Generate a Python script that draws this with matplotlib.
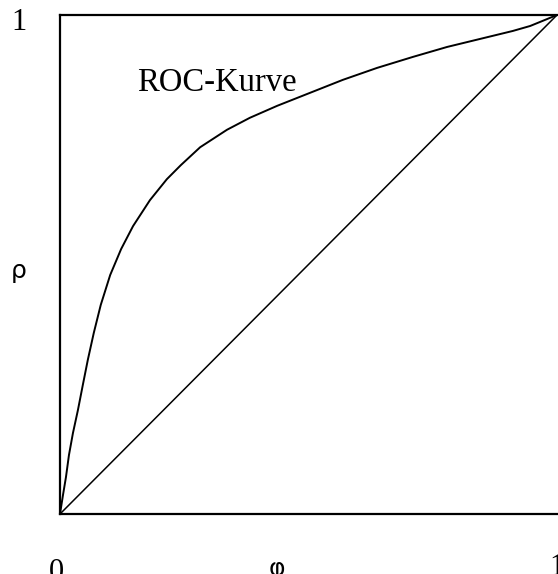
import matplotlib.pyplot as plt

# ROC curve points
fpr = [0.0, 0.006, 0.012, 0.018, 0.026, 0.036, 0.046, 0.056, 0.068, 0.082,
       0.101, 0.123, 0.147, 0.181, 0.215, 0.243, 0.282, 0.336, 0.382, 0.437,
       0.503, 0.569, 0.638, 0.710, 0.779, 0.845, 0.911, 0.946, 1.0]
tpr = [0.0, 0.038, 0.074, 0.118, 0.162, 0.208, 0.259, 0.309, 0.363, 0.419,
       0.479, 0.531, 0.577, 0.629, 0.671, 0.699, 0.735, 0.770, 0.794, 0.818,
       0.844, 0.870, 0.894, 0.916, 0.936, 0.952, 0.968, 0.978, 1.0]
diag = [0.0, 1.0]

fig = plt.figure(figsize=(5.58, 5.74), dpi=100)
ax = fig.add_axes([60 / 558, 60 / 574, 497 / 558, 499 / 574])

ax.plot(fpr, tpr, color="black", lw=1.4, solid_joinstyle="round")
ax.plot(diag, diag, color="black", lw=1.1)
ax.set_xlim(0, 1)
ax.set_ylim(0, 1)
ax.set_xticks([])
ax.set_yticks([])
for s in ["left", "top", "bottom"]:
    ax.spines[s].set_linewidth(1.6)
ax.spines["right"].set_visible(False)

serif = "Liberation Serif"
ax.text(0.155, 0.864, "ROC-Kurve", fontsize=23.5, family=serif,
        ha="left", va="center")

fig.text(19 / 558, 1 - 23 / 574, "1", fontsize=22, family=serif,
         ha="center", va="center")
fig.text(19 / 558, 1 - 271 / 574, "ρ", fontsize=18, family="DejaVu Sans",
         ha="center", va="center")
fig.text(56 / 558, 1 - 580 / 574, "0", fontsize=22, family=serif,
         ha="center", va="baseline")
fig.text(277 / 558, 1 - 576 / 574, "φ", fontsize=18, family="DejaVu Sans",
         ha="center", va="baseline")
fig.text(549 / 558, 1 - 575 / 574, "1", fontsize=22, family=serif,
         ha="left", va="baseline")

fig.savefig("out.png", dpi=100)
